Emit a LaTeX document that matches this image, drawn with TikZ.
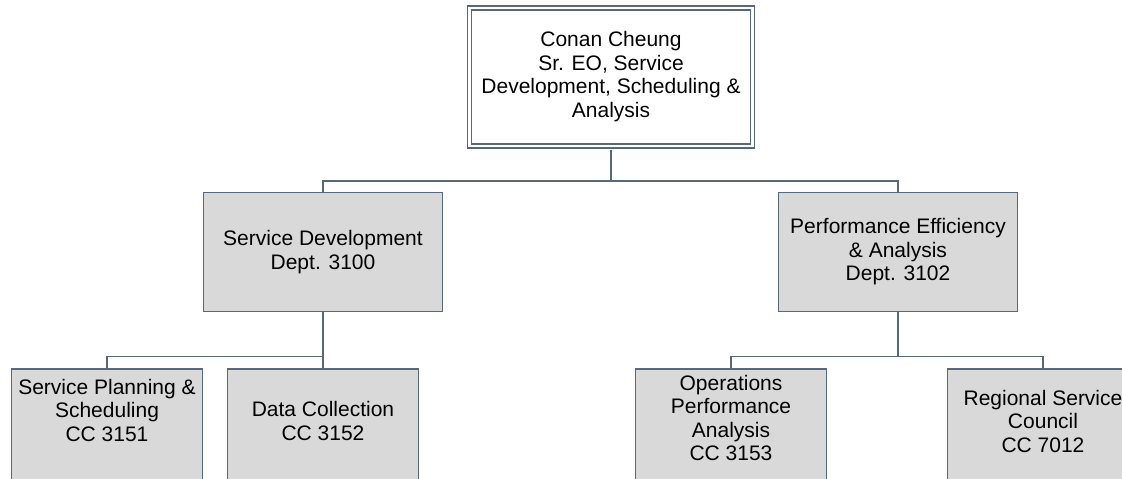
\documentclass[tikz,border=0pt]{standalone}
\usepackage{fontspec}
\setmainfont{Liberation Sans}
\usetikzlibrary{positioning}
\definecolor{orgline}{RGB}{88,104,120}
\definecolor{orgfill}{RGB}{217,217,217}

\begin{document}
\begin{tikzpicture}[x=1pt, y=-1pt,
    every node/.style={font=\fontsize{21}{23.5}\selectfont, align=center, inner sep=0pt},
    unit/.style={draw=orgline, line width=1.8pt, fill=orgfill, rectangle},
    link/.style={draw=orgline, line width=1.7pt}]
    \useasboundingbox (0,0) rectangle (1122,479);

    % head of the group
    \node[draw=orgline, line width=1.6pt, double=white, double distance=2.4pt, minimum width=283pt, minimum height=138pt] (ceo) at (611,76.75) {Conan Cheung\\Sr. EO, Service\\Development, Scheduling \&\\Analysis};

    % departments
    \node[unit, minimum width=239pt, minimum height=119pt] (dev) at (323,252) {Service Development\\Dept. 3100};
    \node[unit, minimum width=239pt, minimum height=119pt] (perf) at (898,252) {Performance Efficiency\\\& Analysis\\Dept. 3102};

    % cost centres (cut off at the bottom)
    \node[unit, minimum width=191pt, minimum height=150pt, anchor=north] (plan) at (107,368) {};
    \node[unit, minimum width=191pt, minimum height=150pt, anchor=north] (data) at (323,368) {};
    \node[unit, minimum width=191pt, minimum height=150pt, anchor=north] (ops) at (731,368) {};
    \node[unit, minimum width=191pt, minimum height=150pt, anchor=north] (reg) at (1043,368) {};
    \node (plantxt) at (107,410) {Service Planning \&\\Scheduling\\CC 3151};
    \node (datatxt) at (323,421) {Data Collection\\CC 3152};
    \node (opstxt) at (731,418) {Operations\\Performance\\Analysis\\CC 3153};
    \node (regtxt) at (1043,421) {Regional Service\\Council\\CC 7012};

    \draw[link] (ceo.south) ++(0,3) -- ++(0,31.3) -| (dev.north);
    \draw[link] (ceo.south) ++(0,3) -- ++(0,31.3) -| (perf.north);
    \draw[link] (dev.south) -- ++(0,44) -| (plan.north);
    \draw[link] (dev.south) -- (data.north);
    \draw[link] (perf.south) -- ++(0,44) -| (ops.north);
    \draw[link] (perf.south) -- ++(0,44) -| (reg.north);
\end{tikzpicture}
\end{document}
